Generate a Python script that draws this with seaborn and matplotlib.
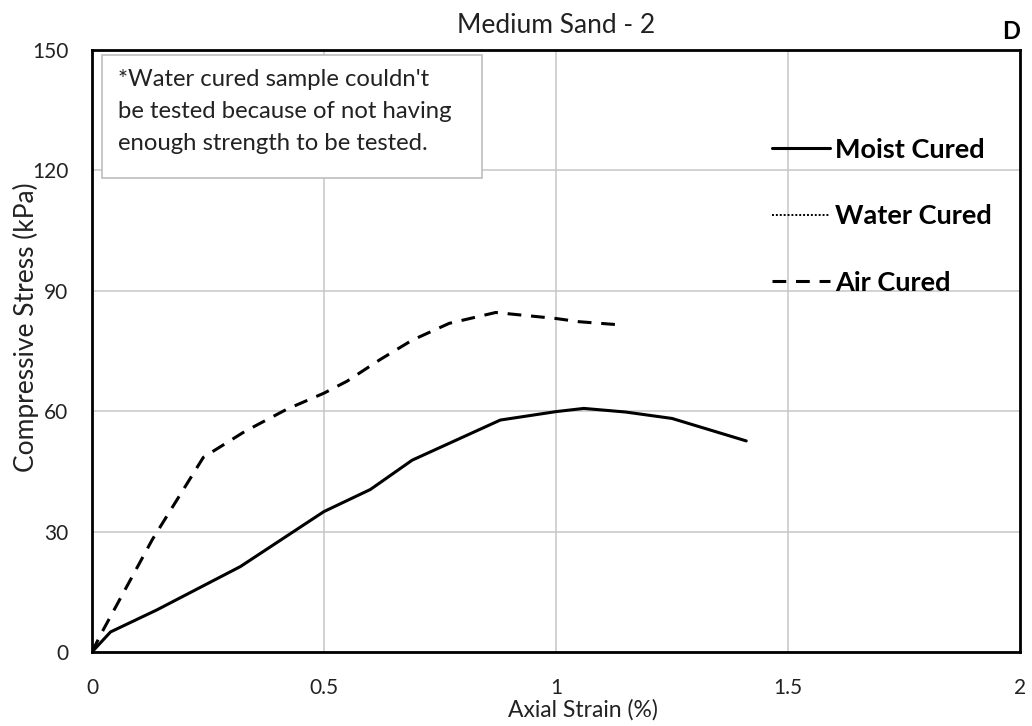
import matplotlib
matplotlib.use("Agg")
import matplotlib.pyplot as plt
from matplotlib.lines import Line2D
from matplotlib.patches import Rectangle
import seaborn as sns
import pandas as pd

# Stress-strain readings (axial strain in %, compressive stress in kPa)
moist_strain = [0, 0.04, 0.14, 0.32, 0.50, 0.60, 0.69, 0.88, 1.00, 1.06, 1.15, 1.25, 1.41]
moist_stress = [0, 5.0, 10.5, 21.3, 35.0, 40.5, 47.8, 57.8, 59.9, 60.7, 59.8, 58.2, 52.6]

air_strain = [0, 0.02, 0.13, 0.24, 0.33, 0.42, 0.50, 0.55, 0.62, 0.69, 0.77, 0.87, 1.00, 1.05, 1.14]
air_stress = [0, 4.6, 28.0, 48.5, 55.0, 60.5, 64.5, 67.5, 72.8, 77.7, 81.9, 84.6, 83.1, 82.3, 81.5]

series_names = ["Moist Cured", "Water Cured", "Air Cured"]
x_ticks = [0, 0.5, 1, 1.5, 2]
x_tick_labels = ["0", "0.5", "1", "1.5", "2"]
y_ticks = [0, 30, 60, 90, 120, 150]

moist_df = pd.DataFrame({"strain": moist_strain, "stress": moist_stress})
air_df = pd.DataFrame({"strain": air_strain, "stress": air_stress})

sns.set_theme(style="white")
plt.rcParams["font.family"] = ["Lato", "DejaVu Sans"]

fig = plt.figure(figsize=(10.32, 7.26), dpi=100)
ax = fig.add_axes([0.0891, 0.1019, 0.8993, 0.8292])

sns.lineplot(data=moist_df, x="strain", y="stress", ax=ax, color="black",
             linewidth=2.2, sort=False, estimator=None)
sns.lineplot(data=air_df, x="strain", y="stress", ax=ax, color="black",
             linewidth=2.2, sort=False, estimator=None)
ax.lines[1].set_dashes((4.5, 3.2))

ax.set_xlim(0, 2)
ax.set_ylim(0, 150)
ax.set_xticks(x_ticks)
ax.set_xticklabels(x_tick_labels)
ax.set_yticks(y_ticks)
ax.grid(True, color="#c6c6c6", linewidth=1.1)
ax.set_axisbelow(True)
for s in ax.spines.values():
    s.set_color("black")
    s.set_linewidth(2.0)
ax.tick_params(axis="both", labelsize=15, colors="#222222", length=0)
ax.tick_params(axis="x", pad=19)
ax.tick_params(axis="y", pad=17)

ax.set_xlabel("Axial Strain (%)", fontsize=16.5, color="#222222")
ax.set_ylabel("Compressive Stress (kPa)", fontsize=19, color="#222222")
ax.xaxis.set_label_coords(0.529, -0.078)
ax.yaxis.set_label_coords(-0.057, 0.54)
ax.set_title("Medium Sand - 2", fontsize=19, color="#222222", pad=12)
ax.text(1.0, 1.012, "D", transform=ax.transAxes, ha="right", va="bottom",
        fontsize=17, fontweight="bold", color="black")

# Note about the untested sample, in a fixed-size text box
ax.add_patch(Rectangle((0.0108, 0.7874), 0.4095, 0.2043, transform=ax.transAxes,
                       facecolor="white", edgecolor="#bdbdbd", linewidth=1.2, zorder=3))
ax.text(0.028, 0.968,
        "*Water cured sample couldn't\nbe tested because of not having\nenough strength to be tested.",
        transform=ax.transAxes, ha="left", va="top", fontsize=17.2, color="#222222",
        linespacing=1.65, zorder=4)

handles = [
    Line2D([], [], color="black", linewidth=2.2, linestyle="-"),
    Line2D([], [], color="black", linewidth=1.4, linestyle=(0, (1, 1))),
    Line2D([], [], color="black", linewidth=2.2, linestyle=(0, (4.5, 3.2))),
]
leg = ax.legend(handles, series_names, loc="upper left", bbox_to_anchor=(0.721, 0.872),
                frameon=False, handlelength=2.15, handletextpad=0.18, labelspacing=1.57,
                prop={"size": 19.5, "weight": "bold"}, borderaxespad=0)
for t in leg.get_texts():
    t.set_color("black")

fig.savefig("out.png", dpi=100, facecolor="white")
